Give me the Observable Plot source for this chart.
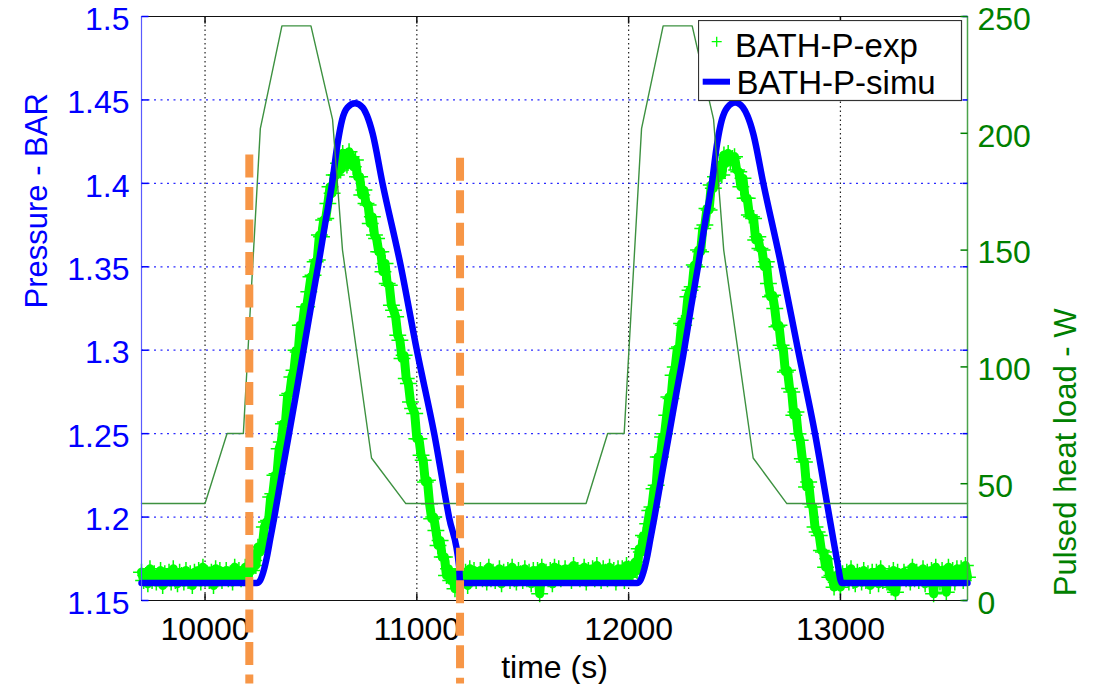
<!DOCTYPE html>
<html><head><meta charset="utf-8">
<script src="https://cdn.jsdelivr.net/npm/d3@7"></script>
<script src="https://cdn.jsdelivr.net/npm/@observablehq/plot@0.6"></script>
<style>
body{margin:0;background:#fff;}
#wrap{position:relative;width:1096px;height:684px;overflow:hidden;font-family:"Liberation Sans",Arial,Helvetica,sans-serif;}
#legend{position:absolute;left:698px;top:20px;}
</style></head><body><div id="wrap"></div>
<script>
// ---------- data ----------
const xDomain = [9700, 13600];
const yDomain = [1.15, 1.5];
const heatMax = 250;
const timeTicks = [10000, 11000, 12000, 13000];
const pressureTicks = [1.15, 1.2, 1.25, 1.3, 1.35, 1.4, 1.45, 1.5];
const pressureGrid = [1.2, 1.25, 1.3, 1.35, 1.4, 1.45];
const heatTicks = [0, 50, 100, 150, 200, 250];
const seriesNames = ["BATH-P-exp", "BATH-P-simu"];
const axisTitles = ["Pressure - BAR", "Pulsed heat load - W", "time (s)"];

// Pulsed heat load (W), right axis
const heatTime = [9700,10000,10104,10181,10261,10363,10500,10602,10649,10786,10948,11799,11901,11979,12061,12163,12300,12401,12449,12588,12747,13600];
const heatLoad = [41.5,41.5,71.5,71.5,202,246,246,206,150,61,41.5,41.5,71.5,71.5,202,246,246,206,150,61,41.5,41.5];

// Simulated bath pressure (BAR)
const simuTime = [9700,10245,10260,10275,10292,10308,10327,10360,10398,10430,10461,10500,10536,10570,10600,10626,10647,10673,10708,10744,10765,10791,10838,10925,11000,11082,11152,11200,11204,
  12040,12055,12070,12087,12103,12122,12155,12193,12225,12258,12295,12330,12363,12393,12418,12440,12466,12503,12540,12561,12588,12636,12722,12800,12880,12948,12985,13006,13600];
const simuPressure = [1.1605,1.1605,1.162,1.167,1.176,1.187,1.200,1.224,1.251,1.274,1.297,1.326,1.352,1.378,1.400,1.424,1.438,1.4455,1.448,1.4455,1.4405,1.430,1.400,1.350,1.300,1.250,1.200,1.170,1.1605,
  1.1605,1.162,1.167,1.176,1.187,1.200,1.224,1.251,1.274,1.297,1.326,1.352,1.378,1.400,1.424,1.438,1.4455,1.4485,1.4455,1.4405,1.430,1.400,1.350,1.300,1.250,1.200,1.1735,1.1605,1.1605];

// Experimental bath pressure (BAR), one reading every expStep seconds from expStart
const expStart = 9700, expStep = 10;
const expPressure = [
1.167,1.162,1.165,1.160,1.169,1.162,1.166,1.161,1.164,1.168,
1.159,1.166,1.163,1.167,1.161,1.169,1.162,1.160,1.167,1.165,
1.161,1.168,1.162,1.166,1.159,1.167,1.164,1.168,1.161,1.170,
1.163,1.166,1.162,1.167,1.159,1.169,1.163,1.168,1.162,1.165,
1.168,1.163,1.166,1.161,1.170,1.164,1.168,1.163,1.166,1.170,
1.161,1.169,1.168,1.174,1.171,1.182,1.179,1.182,1.194,1.197,
1.198,1.212,1.214,1.225,1.226,1.241,1.245,1.256,1.257,1.273,
1.274,1.284,1.288,1.300,1.299,1.315,1.315,1.326,1.326,1.335,
1.344,1.345,1.353,1.354,1.369,1.368,1.378,1.379,1.388,1.398,
1.394,1.405,1.405,1.412,1.408,1.418,1.412,1.411,1.419,1.416,
1.410,1.414,1.404,1.404,1.393,1.396,1.388,1.387,1.376,1.380,
1.369,1.367,1.359,1.359,1.347,1.352,1.340,1.339,1.327,1.324,
1.320,1.309,1.306,1.295,1.297,1.283,1.280,1.269,1.265,1.262,
1.247,1.247,1.237,1.234,1.221,1.222,1.208,1.199,1.200,1.192,
1.183,1.186,1.176,1.176,1.165,1.169,1.162,1.164,1.157,1.167,
1.161,1.165,1.162,1.167,1.159,1.169,1.163,1.168,1.162,1.165,
1.168,1.163,1.166,1.161,1.170,1.163,1.167,1.162,1.165,1.169,
1.160,1.167,1.164,1.168,1.162,1.170,1.163,1.161,1.168,1.166,
1.162,1.169,1.163,1.167,1.160,1.168,1.164,1.168,1.154,1.170,
1.163,1.167,1.163,1.168,1.160,1.170,1.164,1.169,1.163,1.166,
1.169,1.164,1.167,1.162,1.171,1.164,1.168,1.163,1.166,1.170,
1.161,1.168,1.165,1.169,1.163,1.171,1.164,1.162,1.169,1.167,
1.163,1.170,1.164,1.168,1.161,1.169,1.165,1.169,1.162,1.171,
1.164,1.168,1.166,1.173,1.168,1.181,1.179,1.189,1.188,1.196,
1.204,1.206,1.217,1.219,1.236,1.236,1.248,1.250,1.261,1.272,
1.271,1.285,1.290,1.301,1.302,1.316,1.315,1.319,1.332,1.336,
1.338,1.351,1.350,1.360,1.359,1.373,1.375,1.385,1.384,1.399,
1.397,1.404,1.403,1.411,1.405,1.417,1.412,1.418,1.413,1.415,
1.416,1.408,1.407,1.398,1.403,1.391,1.391,1.381,1.380,1.379,
1.366,1.368,1.361,1.360,1.350,1.353,1.340,1.332,1.333,1.325,
1.314,1.315,1.303,1.301,1.287,1.288,1.277,1.275,1.261,1.263,
1.250,1.246,1.235,1.233,1.218,1.221,1.208,1.206,1.194,1.191,
1.189,1.180,1.179,1.170,1.175,1.164,1.165,1.158,1.161,1.166,
1.158,1.166,1.163,1.167,1.161,1.169,1.162,1.160,1.167,1.165,
1.161,1.168,1.162,1.166,1.159,1.167,1.163,1.167,1.160,1.169,
1.162,1.165,1.161,1.166,1.158,1.168,1.155,1.167,1.161,1.164,
1.167,1.163,1.166,1.161,1.170,1.163,1.167,1.162,1.165,1.169,
1.160,1.167,1.164,1.168,1.154,1.170,1.163,1.161,1.168,1.166,
1.155,1.170,1.164,1.168,1.161,1.169,1.165,1.169,1.162,1.171,1.164
];

// Orange dashed annotation lines
const markerTime = [10209, 11204];
const markerTop = [1.417, 1.415];
const markerBottom = [1.10, 1.10];

// ---------- build ----------
const heatToP = w => yDomain[0] + w * (yDomain[1] - yDomain[0]) / heatMax;
const pToHeat = p => Math.round((p - yDomain[0]) * heatMax / (yDomain[1] - yDomain[0]));

const expData = expPressure.map((p, i) => ({t: expStart + i * expStep, p}));
const simuData = simuTime.map((t, i) => ({t, p: simuPressure[i]}));
const heatData = heatTime.map((t, i) => ({t, w: heatLoad[i]}));
const markerData = markerTime.map((t, i) => ({t, top: markerTop[i], bottom: markerBottom[i]}));

const tickSym = (dx, dy) => ({draw(ctx) { ctx.moveTo(0, 0); ctx.lineTo(dx, dy); }});

const BLUE = "#0000ff", GREEN = "#008000", EXP = "#00ff00";
const font = "'Liberation Sans', Arial, Helvetica, sans-serif";

const chart = Plot.plot({
  width: 1096, height: 684,
  marginLeft: 141, marginRight: 129, marginTop: 16, marginBottom: 84,
  x: {domain: xDomain},
  y: {domain: yDomain},
  style: {fontFamily: font, fontSize: "32px", background: "transparent", overflow: "visible"},
  marks: [
    Plot.ruleX(timeTicks, {x: d => d, stroke: "#222", strokeWidth: 1.2, strokeDasharray: "1.5,3"}),
    Plot.ruleY(pressureGrid, {y: d => d, stroke: "#2a2aff", strokeWidth: 1.2, strokeDasharray: "2,4.5"}),
    // experimental readings: dense noisy band of "+" markers
    Plot.line(expData, {x: "t", y: "p", stroke: EXP, strokeWidth: 9, strokeLinejoin: "round"}),
    Plot.dot(expData, {x: "t", y: "p", symbol: "plus", r: 5.5, stroke: EXP, strokeWidth: 1.5}),
    Plot.line(simuData, {x: "t", y: "p", stroke: BLUE, strokeWidth: 6.5, curve: "monotone-x"}),
    Plot.line(heatData, {x: "t", y: d => heatToP(d.w), stroke: "#3d9140", strokeWidth: 1.4}),
    // frame
    Plot.ruleY([yDomain[0], yDomain[1]], {y: d => d, stroke: "#111", strokeWidth: 1.2}),
    Plot.ruleX([xDomain[0]], {x: d => d, stroke: "#5a5aff", strokeWidth: 1.2}),
    Plot.ruleX([xDomain[1]], {x: d => d, stroke: "#4aa34a", strokeWidth: 1.5}),
    // inward ticks
    Plot.dot(timeTicks, {x: d => d, frameAnchor: "bottom", symbol: tickSym(0, -7), stroke: "#111", fill: "none"}),
    Plot.dot(timeTicks, {x: d => d, frameAnchor: "top", symbol: tickSym(0, 7), stroke: "#111", fill: "none"}),
    Plot.dot(pressureTicks, {y: d => d, frameAnchor: "left", symbol: tickSym(7, 0), stroke: BLUE, fill: "none"}),
    Plot.dot(pressureTicks, {y: d => d, frameAnchor: "right", symbol: tickSym(-5, 0), stroke: BLUE, fill: "none"}),
    Plot.dot(heatTicks, {y: d => heatToP(d), frameAnchor: "right", symbol: tickSym(-7, 0), stroke: GREEN, fill: "none"}),
    // tick labels
    Plot.axisX(timeTicks, {anchor: "bottom", tickSize: 0, tickPadding: 17, fontSize: 32, fill: "#000", label: null, tickFormat: d => String(d)}),
    Plot.axisY(pressureTicks, {anchor: "left", tickSize: 0, tickPadding: 12, dy: 3, fontSize: 32, fill: BLUE, label: null, tickFormat: d => String(d)}),
    Plot.axisY(heatTicks.map(heatToP), {anchor: "right", tickSize: 0, tickPadding: 10, dy: 3, fontSize: 32, fill: GREEN, label: null, tickFormat: p => String(pToHeat(p))}),
    // axis titles
    Plot.text([axisTitles[0]], {frameAnchor: "left", dx: -104, rotate: -90, fill: BLUE, fontSize: 31, text: d => d}),
    Plot.text([axisTitles[1]], {frameAnchor: "right", dx: 99, rotate: -90, fill: GREEN, fontSize: 31, text: d => d}),
    Plot.text([axisTitles[2]], {frameAnchor: "bottom", dy: 77, fill: "#000", fontSize: 32, text: d => d}),
    // orange dashed markers
    Plot.ruleX(markerData, {x: "t", y1: "top", y2: "bottom", stroke: "#f79646", strokeWidth: 8, strokeDasharray: "23,9.5"})
  ]
});
document.getElementById("wrap").appendChild(chart);

// legend
const lg = d3.select("#wrap").append("svg").attr("id", "legend").attr("width", 265).attr("height", 82)
  .style("font-family", font);
lg.append("rect").attr("x", 0.5).attr("y", 0.5).attr("width", 263).attr("height", 80)
  .attr("fill", "#fff").attr("stroke", "#333").attr("stroke-width", 1.2);
lg.append("path").attr("d", "M13.7,21.7h10M18.7,16.7v10").attr("stroke", EXP).attr("stroke-width", 1.3);
lg.append("text").attr("x", 37).attr("y", 36.5).attr("font-size", 33).attr("fill", "#000").text(seriesNames[0]);
lg.append("line").attr("x1", 4.7).attr("x2", 32).attr("y1", 61.7).attr("y2", 61.7).attr("stroke", BLUE).attr("stroke-width", 6);
lg.append("text").attr("x", 38.5).attr("y", 74.3).attr("font-size", 33).attr("fill", "#000").text(seriesNames[1]);
</script>
</body></html>
